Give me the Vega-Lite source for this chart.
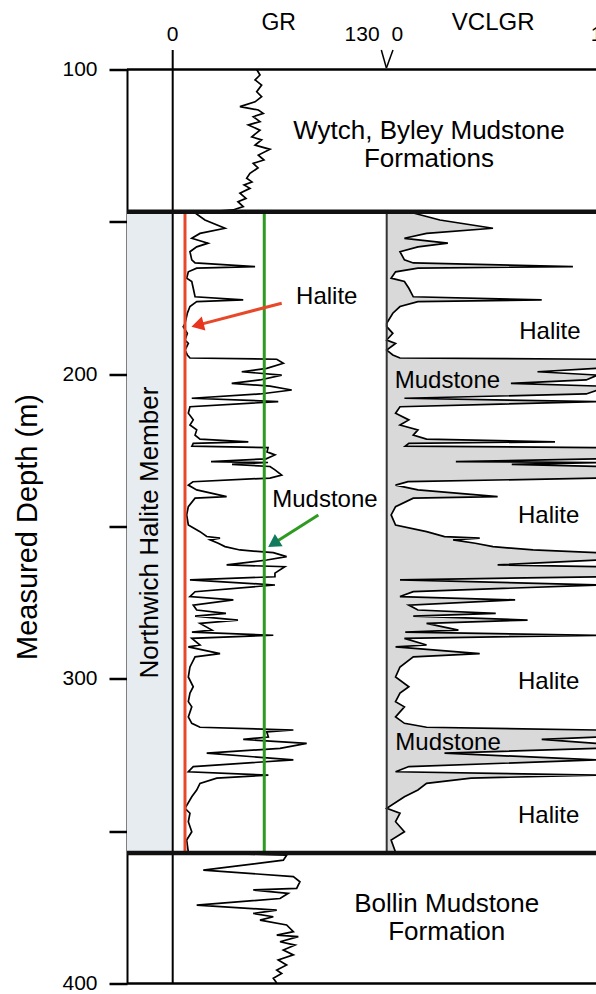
{
  "$schema": "https://vega.github.io/schema/vega-lite/v6.json",
  "width": 469,
  "height": 914,
  "autosize": {"type": "none"},
  "padding": {"left": 127, "top": 69.5, "right": 0, "bottom": 10.5},
  "background": "white",
  "config": {"view": {"stroke": null}, "font": "Liberation Sans", "text": {"font": "Liberation Sans", "color": "black", "baseline": "middle", "align": "center"}},
  "datasets": {
    "log": [
      {"depth":100.0,"gr":51.1},{"depth":101.8,"gr":53.1},{"depth":103.4,"gr":50.1},{"depth":105.1,"gr":54.1},{"depth":107.3,"gr":51.1},{"depth":108.9,"gr":54.1},{"depth":110.6,"gr":50.1},{"depth":112.2,"gr":40.9},{"depth":113.3,"gr":52.1},{"depth":114.4,"gr":55.1},{"depth":115.5,"gr":49.0},{"depth":117.1,"gr":53.1},{"depth":118.2,"gr":46.0},{"depth":119.9,"gr":53.1},{"depth":122.1,"gr":48.1},{"depth":123.1,"gr":54.1},{"depth":124.8,"gr":50.1},{"depth":126.2,"gr":59.2},{"depth":128.1,"gr":52.1},{"depth":129.7,"gr":55.5},{"depth":130.8,"gr":49.0},{"depth":132.3,"gr":51.9},{"depth":134.1,"gr":47.0},{"depth":135.7,"gr":45.0},{"depth":136.9,"gr":48.2},{"depth":137.9,"gr":43.4},{"depth":139.0,"gr":47.0},{"depth":140.6,"gr":40.9},{"depth":142.3,"gr":44.6},{"depth":143.4,"gr":39.7},{"depth":145.0,"gr":42.9},{"depth":146.1,"gr":36.7},
      {"depth":147.1,"gr":13.6,"vcl":0.126},{"depth":149.4,"gr":19.6,"vcl":0.252},{"depth":152.1,"gr":31.8,"vcl":0.504},{"depth":153.8,"gr":16.6,"vcl":0.189},{"depth":155.4,"gr":11.6,"vcl":0.084},{"depth":157.0,"gr":21.5,"vcl":0.29},{"depth":158.2,"gr":14.6,"vcl":0.148},{"depth":159.8,"gr":10.5,"vcl":0.063},{"depth":162.5,"gr":11.6,"vcl":0.084},{"depth":163.5,"gr":13.6,"vcl":0.126},{"depth":164.7,"gr":50.1,"vcl":0.883},{"depth":165.2,"gr":14.6,"vcl":0.148},{"depth":166.4,"gr":9.5,"vcl":0.042},{"depth":168.5,"gr":8.5,"vcl":0.021},{"depth":169.6,"gr":11.6,"vcl":0.084},{"depth":171.8,"gr":12.5,"vcl":0.105},{"depth":174.6,"gr":13.6,"vcl":0.126},{"depth":175.6,"gr":42.9,"vcl":0.735},{"depth":176.2,"gr":14.6,"vcl":0.148},{"depth":177.8,"gr":10.5,"vcl":0.063},{"depth":180.0,"gr":8.9,"vcl":0.029},{"depth":183.3,"gr":7.5,"vcl":0},{"depth":184.4,"gr":6.4,"vcl":0},{"depth":186.6,"gr":8.9,"vcl":0.029},{"depth":188.8,"gr":7.5,"vcl":0},{"depth":189.9,"gr":9.5,"vcl":0.042},{"depth":192.1,"gr":7.5,"vcl":0},{"depth":193.7,"gr":8.9,"vcl":0.029},{"depth":194.7,"gr":10.5,"vcl":0.063},
      {"depth":195.1,"gr":63.3,"vcl":1},{"depth":196.4,"gr":67.3,"vcl":1},{"depth":198.1,"gr":57.2,"vcl":1},{"depth":199.2,"gr":42.0,"vcl":0.715},{"depth":200.3,"gr":66.3,"vcl":1},{"depth":201.9,"gr":53.1,"vcl":0.946},{"depth":203.0,"gr":35.9,"vcl":0.589},{"depth":203.9,"gr":59.2,"vcl":1},{"depth":205.2,"gr":72.4,"vcl":1},{"depth":206.5,"gr":53.1,"vcl":0.946},{"depth":207.9,"gr":11.6,"vcl":0.084},{"depth":209.0,"gr":64.2,"vcl":1},{"depth":210.7,"gr":10.5,"vcl":0.063},{"depth":212.8,"gr":9.5,"vcl":0.042},{"depth":215.0,"gr":12.5,"vcl":0.105},{"depth":216.7,"gr":10.5,"vcl":0.063},{"depth":218.3,"gr":14.6,"vcl":0.148},{"depth":220.0,"gr":13.6,"vcl":0.126},{"depth":221.3,"gr":16.6,"vcl":0.189},{"depth":222.2,"gr":46.0,"vcl":0.798},{"depth":222.7,"gr":12.5,"vcl":0.105},{"depth":223.6,"gr":11.7,"vcl":0.088},{"depth":224.1,"gr":58.0,"vcl":1},{"depth":225.5,"gr":57.4,"vcl":1},{"depth":226.5,"gr":62.2,"vcl":1},{"depth":227.8,"gr":56.8,"vcl":1},{"depth":228.7,"gr":23.3,"vcl":0.328},{"depth":229.0,"gr":58.0,"vcl":1},{"depth":229.6,"gr":36.1,"vcl":0.593},{"depth":230.3,"gr":59.2,"vcl":1},{"depth":231.4,"gr":62.2,"vcl":1},{"depth":233.1,"gr":66.3,"vcl":1},{"depth":234.1,"gr":59.2,"vcl":1},{"depth":235.3,"gr":12.3,"vcl":0.101},{"depth":236.4,"gr":9.5,"vcl":0.042},{"depth":238.0,"gr":14.6,"vcl":0.148},{"depth":240.2,"gr":32.8,"vcl":0.526},{"depth":240.7,"gr":13.6,"vcl":0.126},{"depth":243.5,"gr":9.5,"vcl":0.042},{"depth":246.2,"gr":8.5,"vcl":0.021},{"depth":249.5,"gr":9.5,"vcl":0.042},{"depth":251.7,"gr":16.6,"vcl":0.189},{"depth":253.3,"gr":20.7,"vcl":0.274},{"depth":253.8,"gr":28.8,"vcl":0.441},{"depth":254.4,"gr":22.7,"vcl":0.315},{"depth":255.5,"gr":27.7,"vcl":0.42},{"depth":256.6,"gr":31.8,"vcl":0.504},{"depth":257.7,"gr":40.9,"vcl":0.694},{"depth":258.6,"gr":61.2,"vcl":1},{"depth":259.9,"gr":69.3,"vcl":1},{"depth":261.0,"gr":57.2,"vcl":1},{"depth":262.6,"gr":32.8,"vcl":0.526},{"depth":263.2,"gr":68.2,"vcl":1},{"depth":265.3,"gr":62.2,"vcl":1},{"depth":266.5,"gr":62.2,"vcl":1},{"depth":267.5,"gr":10.5,"vcl":0.063},{"depth":269.2,"gr":62.2,"vcl":1},{"depth":271.4,"gr":13.6,"vcl":0.126},{"depth":273.0,"gr":10.5,"vcl":0.063},{"depth":274.1,"gr":36.9,"vcl":0.609},{"depth":275.8,"gr":12.5,"vcl":0.105},{"depth":277.4,"gr":14.6,"vcl":0.148},{"depth":278.5,"gr":32.4,"vcl":0.517},{"depth":279.4,"gr":13.6,"vcl":0.126},{"depth":280.7,"gr":39.7,"vcl":0.668},{"depth":281.8,"gr":16.6,"vcl":0.189},{"depth":284.0,"gr":23.9,"vcl":0.34},{"depth":284.7,"gr":11.7,"vcl":0.088},{"depth":285.7,"gr":61.2,"vcl":1},{"depth":286.7,"gr":11.6,"vcl":0.084},{"depth":288.9,"gr":16.6,"vcl":0.189},{"depth":289.5,"gr":9.5,"vcl":0.042},{"depth":291.7,"gr":28.8,"vcl":0.441},{"depth":292.8,"gr":13.6,"vcl":0.126},{"depth":296.1,"gr":10.5,"vcl":0.063},{"depth":299.4,"gr":9.5,"vcl":0.042},{"depth":302.6,"gr":12.5,"vcl":0.105},{"depth":304.7,"gr":10.5,"vcl":0.063},{"depth":307.5,"gr":9.5,"vcl":0.042},{"depth":309.2,"gr":11.6,"vcl":0.084},{"depth":312.5,"gr":9.5,"vcl":0.042},{"depth":314.6,"gr":11.6,"vcl":0.084},{"depth":315.9,"gr":16.6,"vcl":0.189},{"depth":316.8,"gr":73.4,"vcl":1},{"depth":317.4,"gr":57.2,"vcl":1},{"depth":319.1,"gr":58.2,"vcl":1},{"depth":319.9,"gr":42.9,"vcl":0.735},{"depth":321.2,"gr":81.5,"vcl":1},{"depth":322.8,"gr":65.3,"vcl":1},{"depth":324.4,"gr":20.7,"vcl":0.274},{"depth":326.6,"gr":73.4,"vcl":1},{"depth":328.8,"gr":12.5,"vcl":0.105},{"depth":330.5,"gr":9.5,"vcl":0.042},{"depth":331.6,"gr":58.2,"vcl":1},{"depth":332.6,"gr":26.8,"vcl":0.4},{"depth":334.3,"gr":16.6,"vcl":0.189},{"depth":336.5,"gr":14.6,"vcl":0.148},{"depth":338.7,"gr":11.6,"vcl":0.084},{"depth":342.5,"gr":7.5,"vcl":0},{"depth":344.1,"gr":10.5,"vcl":0.063},{"depth":346.9,"gr":9.5,"vcl":0.042},{"depth":350.2,"gr":11.6,"vcl":0.084},{"depth":352.9,"gr":8.5,"vcl":0.021},{"depth":356.9,"gr":9.5,"vcl":0.042},
      {"depth":357.9,"gr":69.3},{"depth":359.5,"gr":67.3},{"depth":362.8,"gr":18.6},{"depth":364.9,"gr":73.4},{"depth":366.6,"gr":77.4},{"depth":368.8,"gr":75.4},{"depth":369.3,"gr":49.0},{"depth":370.4,"gr":70.3},{"depth":372.1,"gr":65.3},{"depth":374.3,"gr":14.6},{"depth":375.9,"gr":63.3},{"depth":377.0,"gr":49.0},{"depth":378.1,"gr":61.2},{"depth":379.2,"gr":53.1},{"depth":380.8,"gr":69.3},{"depth":383.0,"gr":73.4},{"depth":384.1,"gr":63.3},{"depth":384.6,"gr":76.4},{"depth":386.3,"gr":65.3},{"depth":387.4,"gr":74.4},{"depth":389.0,"gr":67.3},{"depth":390.6,"gr":73.4},{"depth":392.3,"gr":64.2},{"depth":393.9,"gr":69.3},{"depth":395.6,"gr":63.3},{"depth":396.7,"gr":66.3},{"depth":398.3,"gr":61.2},{"depth":399.8,"gr":63.3}
    ],
    "member": [{"unit":"Northwich Halite Member","depth":146.7,"depth2":357.2,"gr":-27.8,"gr2":0}],
    "grZero": [{"gr":0,"depth":93.6,"depth2":400}],
    "vclZero": [{"vcl":0,"depth":146.7,"depth2":357.2}],
    "cutoffs": [{"cutoff":"halite","gr":7.48,"depth":146.7,"depth2":357.2},{"cutoff":"mudstone","gr":55.7,"depth":146.7,"depth2":357.2}],
    "vMark": [{"gr":126.9,"gr2":130,"depth":93.6,"depth2":99.5},{"gr":134.0,"gr2":130,"depth":93.6,"depth2":99.5}],
    "edges": [{"depth":100},{"depth":400}],
    "boundaries": [{"depth":146.7},{"depth":357.2}],
    "arrows": [{"label":"Halite","gr":66.3,"depth":176.7,"gr2":15.1,"depth2":183.9},{"label":"Mudstone","gr":88.6,"depth":246.2,"gr2":61.3,"depth2":255.6}],
    "arrowHeads": [{"label":"Halite","gr":15.1,"depth":183.9},{"label":"Mudstone","gr":61.3,"depth":255.6}],
    "grLabels": [{"text":"Halite","gr":93.7,"depth":174.8},{"text":"Mudstone","gr":92.6,"depth":241.3}],
    "vclLabels": [{"text":"Halite","vcl":0.774,"depth":186.3},{"text":"Mudstone","vcl":0.288,"depth":202.2},{"text":"Halite","vcl":0.768,"depth":246.5},{"text":"Halite","vcl":0.768,"depth":301.2},{"text":"Mudstone","vcl":0.291,"depth":321.2},{"text":"Halite","vcl":0.768,"depth":345.0}],
    "formations": [{"text":"Wytch, Byley Mudstone","gr":155.9,"depth":120.3},{"text":"Formations","gr":155.9,"depth":129.4},{"text":"Bollin Mudstone","gr":166.7,"depth":373.9},{"text":"Formation","gr":166.7,"depth":383.2}],
    "memberLabel": [{"text":"Northwich Halite Member","gr":-13.8,"depth":252.0}],
    "grScale": [{"text":"0","gr":0,"depth":88.8},{"text":"130","gr":115.2,"depth":88.8}],
    "grTitle": [{"text":"GR","gr":64.5,"depth":84.7}],
    "vclScale": [{"text":"0","vcl":0.051,"depth":88.8},{"text":"1","vcl":0.995,"depth":88.8}],
    "vclTitle": [{"text":"VCLGR","vcl":0.505,"depth":84.7}]
  },
  "encoding": {
    "y": {"field": "depth", "type": "quantitative", "scale": {"domain": [100, 400], "reverse": true, "nice": false, "zero": false},
      "axis": {"values": [100, 150, 200, 250, 300, 350, 400], "labelExpr": "datum.value % 100 === 0 ? datum.label : ''", "tickSize": 18, "tickWidth": 2.5, "tickColor": "black", "domainColor": "black", "domainWidth": 2, "labelFontSize": 21, "labelColor": "black", "labelPadding": 12, "labelFont": "Liberation Sans", "labelFlush": false, "labelOverlap": false, "grid": false, "title": "Measured Depth (m)", "titleFontSize": 29, "titleFontWeight": "normal", "titleColor": "black", "titleFont": "Liberation Sans", "titlePadding": 19}}
  },
  "layer": [
    {
      "data": {"name": "member"},
      "mark": {"type": "rect", "fill": "#e7ecf1"},
      "encoding": {
        "x": {"field": "gr", "type": "quantitative", "scale": {"domain": [-27.8, 257.5], "nice": false, "zero": false}, "axis": null},
        "x2": {"field": "gr2"},
        "y2": {"field": "depth2"}
      }
    },
    {
      "data": {"name": "log"},
      "transform": [{"filter": "isValid(datum.vcl)"}],
      "mark": {"type": "area", "orient": "horizontal", "fill": "#d9d9d9", "clip": true},
      "encoding": {
        "x": {"field": "vcl", "type": "quantitative", "stack": null, "scale": {"domain": [-1.2314, 0.9924], "nice": false, "zero": false}, "axis": null},
        "x2": {"datum": 0}
      }
    },
    {
      "data": {"name": "log"},
      "transform": [{"filter": "isValid(datum.vcl)"}],
      "mark": {"type": "line", "color": "black", "strokeWidth": 1.7, "clip": true},
      "encoding": {
        "x": {"field": "vcl", "type": "quantitative", "scale": {"domain": [-1.2314, 0.9924], "nice": false, "zero": false}, "axis": null},
        "order": {"field": "depth", "type": "quantitative"}
      }
    },
    {
      "data": {"name": "log"},
      "mark": {"type": "line", "color": "black", "strokeWidth": 1.7, "clip": true},
      "encoding": {
        "x": {"field": "gr", "type": "quantitative", "scale": {"domain": [-27.8, 257.5], "nice": false, "zero": false}, "axis": null},
        "order": {"field": "depth", "type": "quantitative"}
      }
    },
    {
      "data": {"name": "grZero"},
      "mark": {"type": "rule", "color": "black", "strokeWidth": 2},
      "encoding": {
        "x": {"field": "gr", "type": "quantitative", "scale": {"domain": [-27.8, 257.5], "nice": false, "zero": false}, "axis": null},
        "y2": {"field": "depth2"}
      }
    },
    {
      "data": {"name": "vclZero"},
      "mark": {"type": "rule", "color": "#333333", "strokeWidth": 2},
      "encoding": {
        "x": {"field": "vcl", "type": "quantitative", "scale": {"domain": [-1.2314, 0.9924], "nice": false, "zero": false}, "axis": null},
        "y2": {"field": "depth2"}
      }
    },
    {
      "data": {"name": "cutoffs"},
      "mark": {"type": "rule", "strokeWidth": 3},
      "encoding": {
        "x": {"field": "gr", "type": "quantitative", "scale": {"domain": [-27.8, 257.5], "nice": false, "zero": false}, "axis": null},
        "y2": {"field": "depth2"},
        "color": {"field": "cutoff", "type": "nominal", "scale": {"domain": ["halite", "mudstone"], "range": ["#e8482a", "#2e9a20"]}, "legend": null}
      }
    },
    {
      "data": {"name": "vMark"},
      "mark": {"type": "rule", "color": "black", "strokeWidth": 1.5},
      "encoding": {
        "x": {"field": "gr", "type": "quantitative", "scale": {"domain": [-27.8, 257.5], "nice": false, "zero": false}, "axis": null},
        "x2": {"field": "gr2"},
        "y2": {"field": "depth2"}
      }
    },
    {
      "data": {"name": "edges"},
      "mark": {"type": "rule", "color": "black", "strokeWidth": 2.5},
      "encoding": {}
    },
    {
      "data": {"name": "boundaries"},
      "mark": {"type": "rule", "color": "#111111", "strokeWidth": 4.5},
      "encoding": {}
    },
    {
      "data": {"name": "arrows"},
      "mark": {"type": "rule", "strokeWidth": 3},
      "encoding": {
        "x": {"field": "gr", "type": "quantitative", "scale": {"domain": [-27.8, 257.5], "nice": false, "zero": false}, "axis": null},
        "x2": {"field": "gr2"},
        "y2": {"field": "depth2"},
        "color": {"field": "label", "type": "nominal", "scale": {"domain": ["Halite", "Mudstone"], "range": ["#e8341f", "#117a5e"]}, "legend": null}
      }
    },
    {
      "data": {"name": "arrowHeads"},
      "transform": [{"filter": "datum.label === 'Halite'"}],
      "mark": {"type": "point", "shape": "triangle-up", "filled": true, "size": 210, "angle": 255.4, "color": "#e8341f", "opacity": 1},
      "encoding": {
        "x": {"field": "gr", "type": "quantitative", "scale": {"domain": [-27.8, 257.5], "nice": false, "zero": false}, "axis": null}
      }
    },
    {
      "data": {"name": "arrowHeads"},
      "transform": [{"filter": "datum.label === 'Mudstone'"}],
      "mark": {"type": "point", "shape": "triangle-up", "filled": true, "size": 210, "angle": 237.7, "color": "#117a5e", "opacity": 1},
      "encoding": {
        "x": {"field": "gr", "type": "quantitative", "scale": {"domain": [-27.8, 257.5], "nice": false, "zero": false}, "axis": null}
      }
    },
    {
      "data": {"name": "grLabels"},
      "mark": {"type": "text", "fontSize": 24},
      "encoding": {
        "x": {"field": "gr", "type": "quantitative", "scale": {"domain": [-27.8, 257.5], "nice": false, "zero": false}, "axis": null},
        "text": {"field": "text"}
      }
    },
    {
      "data": {"name": "vclLabels"},
      "mark": {"type": "text", "fontSize": 24},
      "encoding": {
        "x": {"field": "vcl", "type": "quantitative", "scale": {"domain": [-1.2314, 0.9924], "nice": false, "zero": false}, "axis": null},
        "text": {"field": "text"}
      }
    },
    {
      "data": {"name": "formations"},
      "mark": {"type": "text", "fontSize": 26},
      "encoding": {
        "x": {"field": "gr", "type": "quantitative", "scale": {"domain": [-27.8, 257.5], "nice": false, "zero": false}, "axis": null},
        "text": {"field": "text"}
      }
    },
    {
      "data": {"name": "memberLabel"},
      "mark": {"type": "text", "fontSize": 26, "angle": 270},
      "encoding": {
        "x": {"field": "gr", "type": "quantitative", "scale": {"domain": [-27.8, 257.5], "nice": false, "zero": false}, "axis": null},
        "text": {"field": "text"}
      }
    },
    {
      "data": {"name": "grScale"},
      "mark": {"type": "text", "fontSize": 21},
      "encoding": {
        "x": {"field": "gr", "type": "quantitative", "scale": {"domain": [-27.8, 257.5], "nice": false, "zero": false}, "axis": null},
        "text": {"field": "text"}
      }
    },
    {
      "data": {"name": "grTitle"},
      "mark": {"type": "text", "fontSize": 23},
      "encoding": {
        "x": {"field": "gr", "type": "quantitative", "scale": {"domain": [-27.8, 257.5], "nice": false, "zero": false}, "axis": null},
        "text": {"field": "text"}
      }
    },
    {
      "data": {"name": "vclScale"},
      "mark": {"type": "text", "fontSize": 21},
      "encoding": {
        "x": {"field": "vcl", "type": "quantitative", "scale": {"domain": [-1.2314, 0.9924], "nice": false, "zero": false}, "axis": null},
        "text": {"field": "text"}
      }
    },
    {
      "data": {"name": "vclTitle"},
      "mark": {"type": "text", "fontSize": 24},
      "encoding": {
        "x": {"field": "vcl", "type": "quantitative", "scale": {"domain": [-1.2314, 0.9924], "nice": false, "zero": false}, "axis": null},
        "text": {"field": "text"}
      }
    }
  ],
  "resolve": {"scale": {"x": "independent"}}
}
